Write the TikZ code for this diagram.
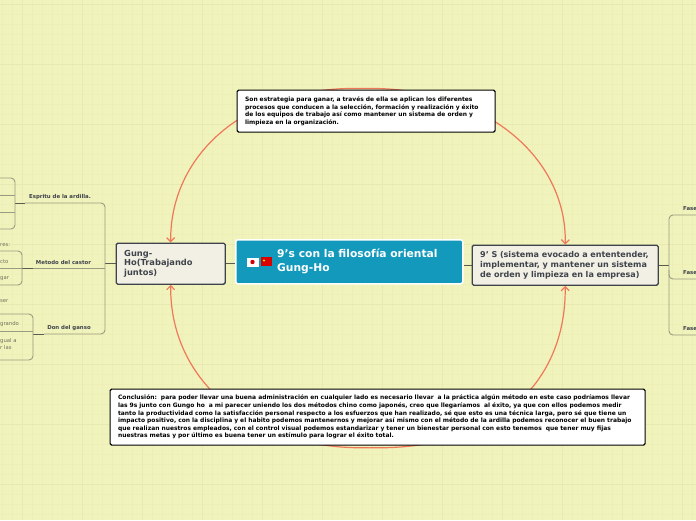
\documentclass[tikz,border=0pt]{standalone}
\usepackage{fontspec}
\setmainfont{DejaVu Sans}
\usetikzlibrary{arrows.meta,calc}
\definecolor{bgc}{HTML}{F1F3BC}
\definecolor{gridc}{HTML}{EDEFB6}
\definecolor{gridd}{HTML}{E8EAB2}
\definecolor{inkc}{HTML}{3F434B}
\definecolor{boxc}{HTML}{F2F0E4}
\definecolor{bluec}{HTML}{1299BC}
\definecolor{redc}{HTML}{F0785A}
\definecolor{linec}{HTML}{9A9C82}
\definecolor{darkl}{HTML}{5A5C50}
\definecolor{leafc}{HTML}{6E705E}
\pgfdeclarelayer{under}
\pgfsetlayers{under,main}
\tikzset{
  topicbox/.style={draw=inkc,line width=1.4pt,fill=boxc,rounded corners=1.5pt,anchor=north west,text=inkc,font=\bfseries,align=left,inner ysep=0pt,inner xsep=8pt},
  notebox/.style={draw=black,line width=1.2pt,fill=white,rounded corners=1.5pt,anchor=north west,inner ysep=0pt,inner xsep=8pt,text=black,font=\fontsize{5.97}{7.6}\selectfont\bfseries,align=left},
  centerbox/.style={draw=white,line width=1.5pt,fill=bluec,rounded corners=2pt,anchor=north west,text=white,minimum width=227pt,minimum height=44pt,inner sep=0pt},
  relation/.style={draw=redc,line width=1.2pt,-{Straight Barb[length=4pt,width=8pt]}},
  treeline/.style={draw=linec,line width=0.9pt,rounded corners=4pt},
  stub/.style={draw=darkl,line width=1pt},
  subtopic/.style={text=inkc,font=\fontsize{5.4}{6}\selectfont\bfseries,inner sep=0pt},
  leaf/.style={text=leafc,font=\fontsize{5.3}{6.5}\selectfont,inner sep=0pt,anchor=west},
}
\begin{document}
\begin{tikzpicture}[x=1pt,y=-1pt]
\useasboundingbox (0,0) rectangle (696,520);
\begin{pgfonlayer}{under}
\fill[bgc] (0,0) rectangle (696,520);
\foreach \v in {2.7,12.7,...,696}{\draw[gridc,line width=0.8pt] (\v,0) -- (\v,520);}
\foreach \v in {4,14,...,520}{\draw[gridc,line width=0.8pt] (0,\v) -- (696,\v);}
\foreach \v in {22.7,82.7,...,696}{\draw[gridd,line width=0.8pt] (\v,0) -- (\v,520);}
\foreach \v in {4,64,...,520}{\draw[gridd,line width=0.8pt] (0,\v) -- (696,\v);}
\end{pgfonlayer}
% main boxes
\node[centerbox] (core) at (235,239) {};
\node[text=white,font=\fontsize{10.7}{14}\selectfont\bfseries,align=left,anchor=west,inner sep=0pt] (coretext) at (277,261) {9's con la filosofía oriental\\Gung-Ho};
\node[topicbox,text width=93pt,minimum height=41pt,font=\fontsize{8.3}{9.6}\selectfont\bfseries] (gung) at (115.5,242.5) {Gung-\\Ho(Trabajando\\juntos)};
\node[topicbox,text width=170pt,minimum height=40pt,font=\fontsize{8.05}{10}\selectfont\bfseries] (nine) at (471.5,244.5) {9' S (sistema evocado a ententender,\\implementar, y mantener un sistema\\de orden y limpieza en la empresa)};
\node[notebox,text width=242pt,minimum height=42pt] (top) at (236.5,89.5) {Son estrategia para ganar, a través de ella se aplican los diferentes\\procesos que conducen a la selección, formación y realización y éxito\\de los equipos de trabajo así como mantener un sistema de orden y\\limpieza en la organización.};
\node[notebox,text width=519pt,minimum height=56pt] (bot) at (109.5,388.5) {Conclusión:\ \ para poder llevar una buena administración en cualquier lado es necesario llevar\ \ a la práctica algún método en este caso podríamos llevar\\las 9s junto con Gungo ho\ \ a mi parecer uniendo los dos métodos chino como japonés, creo que llegaríamos\ \ al éxito, ya que con ellos podemos medir\\tanto la productividad como la satisfacción personal respecto a los esfuerzos que han realizado, sé que esto es una técnica larga, pero sé que tiene un\\impacto positivo, con la disciplina y el habito podemos mantenernos y mejorar así mismo con el método de la ardilla podemos reconocer el buen trabajo\\que realizan nuestros empleados, con el control visual podemos estandarizar y tener un bienestar personal con esto tenemos\ \ que tener muy fijas\\nuestras metas y por último es buena tener un estímulo para lograr el éxito total.};
% flags
\node[draw=white,line width=0.3pt,fill=white,minimum width=11pt,minimum height=8pt,inner sep=0pt] (jp) at (252.5,262) {};
\fill[red!80!black] (jp.center) circle (2.2pt);
\node[fill=red!85!black,minimum width=11pt,minimum height=8.5pt,inner sep=0pt] (cn) at (266.5,261.5) {};
\fill[yellow!90!orange] ($(cn.center)+(-2.5,-1)$) circle (1.2pt);
% tree coordinates
\coordinate (lroot) at (105,263);
\coordinate (rroot) at (669,265);
\node[subtopic] (ardilla) at (60,197.5) {Espritu de la ardilla.};
\node[subtopic] (castor) at (63.5,262.5) {Metodo del castor};
\node[subtopic] (ganso) at (69,328.5) {Don del ganso};
\node[leaf] (l1) at (0,245) {res:};
\node[leaf] (l2) at (0,262) {cto};
\node[leaf] (l3) at (0,279) {gar};
\node[leaf] (l4) at (0,301) {ser};
\node[leaf] (l5) at (0,324) {grando};
\node[leaf] (l6) at (0,341) {gual a};
\node[leaf] (l7) at (0,348) {r las};
\node[subtopic,anchor=west] (f1) at (683,209) {Fase};
\node[subtopic,anchor=west] (f2) at (683,273) {Fase};
\node[subtopic,anchor=west] (f3) at (683,329) {Fase};
\begin{pgfonlayer}{under}
\draw[relation] (top.north) ++(-4,-1) .. controls +(-120,-3) and +(-1,-85) .. (gung.north);
\draw[relation] (top.north) ++(-4,-1) .. controls +(125,-3) and +(2,-85) .. (nine.north);
\draw[relation] (bot.south) ++(-8,2) .. controls +(-120,3) and +(-1,95) .. (gung.south);
\draw[relation] (bot.south) ++(-8,2) .. controls +(130,3) and +(1,95) .. (nine.south);
% trunks
\draw[stub,line width=0.9pt] (gung.west) -- (gung.west -| lroot);
\draw[stub,line width=0.9pt] (nine.east) -- (nine.east -| rroot);
\draw[stub,line width=0.9pt] (nine.west) -- (nine.west -| core.east);
\draw[stub,line width=0.9pt] (gung.east) -- (gung.east -| core.west);
\end{pgfonlayer}
% left bracket
\draw[treeline] (25,203) -- (105,203) -- (105,334) -- (44,334);
\draw[treeline] (33,268) -- (105,268);
\draw[stub] (15,203) -- (25,203);
\draw[stub] (22,268) -- (33,268);
\draw[stub] (33,334) -- (44,334);
\draw[treeline] (0,178) -- (15,178) -- (15,229) -- (0,229);
\draw[treeline] (0,195) -- (15,195);
\draw[treeline] (0,212) -- (15,212);
\draw[treeline] (0,251) -- (22,251) -- (22,285) -- (0,285);
\draw[treeline] (0,268) -- (22,268);
\draw[treeline] (0,314) -- (33,314) -- (33,360) -- (0,360);
\draw[treeline] (0,331) -- (33,331);
% right bracket
\draw[treeline] (696,215) -- (669,215) -- (669,279) -- (696,279);
\draw[treeline] (669,270) -- (669,335) -- (696,335);
\end{tikzpicture}
\end{document}
